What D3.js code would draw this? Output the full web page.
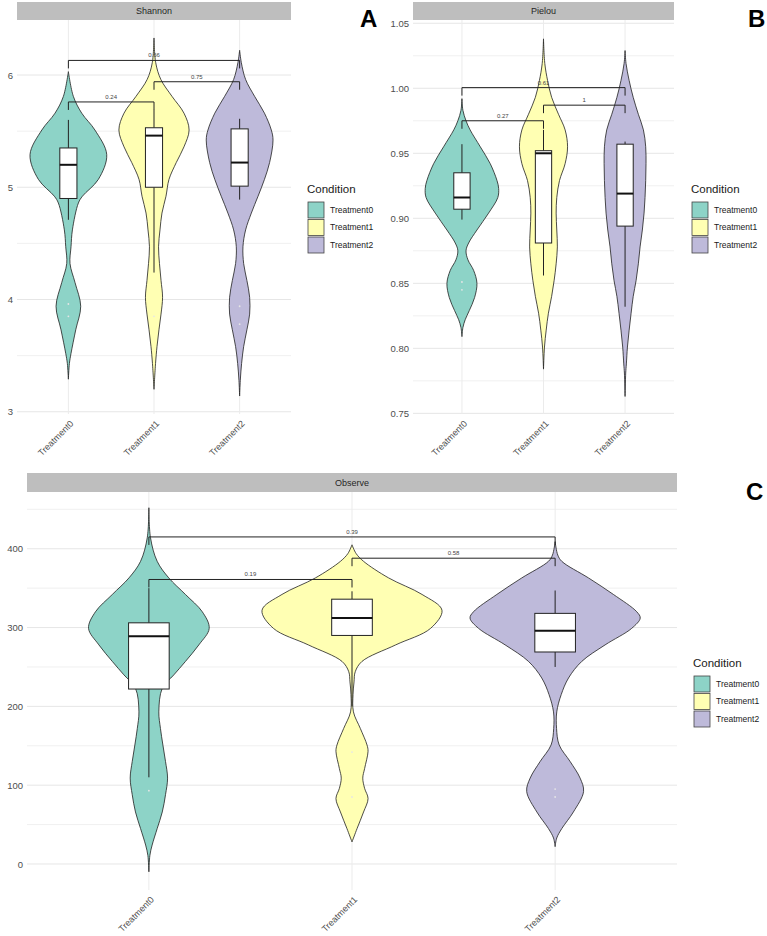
<!DOCTYPE html>
<html lang="en">
<head>
<meta charset="UTF-8">
<title>Violin plots</title>
<style>
  body { margin: 0; background: #fff; }
  svg { display: block; font-family: "Liberation Sans", Arial, sans-serif; }
</style>
</head>
<body>
<div class="canvas"></div>
<script src="https://cdnjs.cloudflare.com/ajax/libs/d3/7.8.5/d3.min.js"></script>
<script>
// groups
const categories = ["Treatment0", "Treatment1", "Treatment2"];
const fills = ["#8DD3C7", "#FFFFB3", "#BEBADA"];

// violin outlines: [value, half width in category units]
const shannonViolins = [
  [[6.03,0],[5.81,.058],[5.66,.156],[5.51,.31],[5.29,.448],[5.07,.35],[4.92,.164],[4.86,.117],[4.62,.047],[4.47,.031],[4.32,.019],[4.15,.078],[3.94,.144],[3.73,.086],[3.52,.031],[3.43,.012],[3.29,0]],
  [[6.33,0],[6.11,.02],[5.96,.08],[5.81,.21],[5.66,.35],[5.51,.41],[5.36,.35],[5.22,.26],[5.07,.175],[4.92,.14],[4.77,.093],[4.62,.07],[4.47,.053],[4.32,.064],[4.17,.082],[4.02,.1],[3.87,.082],[3.73,.058],[3.58,.035],[3.43,.018],[3.20,0]],
  [[6.22,0],[6.11,.02],[5.96,.07],[5.81,.175],[5.66,.29],[5.51,.37],[5.42,.39],[5.22,.35],[5.07,.29],[4.92,.215],[4.77,.137],[4.62,.07],[4.47,.039],[4.32,.047],[4.17,.085],[4.02,.117],[3.87,.117],[3.73,.085],[3.58,.047],[3.43,.023],[3.28,.008],[3.14,0]]
];
// boxes: [lower whisker, q1, median, q3, upper whisker]
const shannonBoxes = [
  [4.71, 4.90, 5.20, 5.35, 5.60],
  [4.24, 5.00, 5.46, 5.53, 5.69],
  [4.89, 5.01, 5.22, 5.52, 5.61]
];
const shannonOutliers = [[3.96, 3.85], [3.85], [3.94, 3.78]];
// [from, to, height, p label]
const shannonBrackets = [[0, 1, 5.76, "0.24"], [1, 2, 5.94, "0.75"], [0, 2, 6.13, "0.66"]];
const shannonTicks = [3, 4, 5, 6];
const shannonMinor = [3.5, 4.5, 5.5];

const pielouViolins = [
  [[0.992,0],[0.983,.012],[0.975,.05],[0.968,.10],[0.955,.225],[0.942,.347],[0.929,.43],[0.923,.45],[0.916,.44],[0.904,.327],[0.891,.184],[0.881,.082],[0.875,.05],[0.868,.074],[0.860,.143],[0.850,.184],[0.839,.155],[0.829,.09],[0.822,.04],[0.816,.012],[0.809,0]],
  [[1.038,0],[1.019,.016],[1.006,.05],[0.993,.10],[0.980,.184],[0.968,.265],[0.955,.295],[0.942,.265],[0.929,.196],[0.916,.163],[0.904,.155],[0.891,.163],[0.878,.17],[0.865,.155],[0.852,.13],[0.840,.10],[0.827,.06],[0.814,.033],[0.801,.012],[0.784,0]],
  [[1.029,0],[1.019,.012],[1.006,.05],[0.993,.10],[0.980,.163],[0.968,.225],[0.955,.253],[0.942,.257],[0.929,.253],[0.916,.245],[0.904,.233],[0.891,.212],[0.878,.184],[0.865,.163],[0.852,.135],[0.840,.10],[0.827,.074],[0.814,.05],[0.801,.029],[0.788,.016],[0.781,.008],[0.763,0]]
];
const pielouBoxes = [
  [0.899, 0.907, 0.916, 0.935, 0.957],
  [0.856, 0.881, 0.950, 0.952, 0.968],
  [0.832, 0.894, 0.919, 0.957, 0.959]
];
const pielouOutliers = [[0.851, 0.845], [], []];
const pielouBrackets = [[0, 1, 0.975, "0.27"], [1, 2, 0.987, "1"], [0, 2, 1.0005, "0.61"]];
const pielouTicks = [0.75, 0.80, 0.85, 0.90, 0.95, 1.00, 1.05];
const pielouMinor = [0.775, 0.825, 0.875, 0.925, 0.975, 1.025];

const observeViolins = [
  [[452,0],[414,.008],[384,.041],[363,.098],[342,.18],[320,.263],[299,.297],[278,.246],[257,.18],[240,.123],[223,.066],[193,.049],[172,.057],[151,.069],[130,.082],[109,.092],[88,.082],[66,.066],[45,.041],[24,.016],[11,.005],[-10,0]],
  [[405,0],[394,.02],[384,.057],[363,.18],[342,.345],[322,.443],[299,.387],[278,.215],[257,.049],[244,.016],[231,.01],[215,.005],[193,.007],[172,.041],[151,.074],[143,.079],[121,.062],[109,.053],[96,.062],[83,.079],[66,.057],[45,.025],[28,0]],
  [[409,0],[392,.013],[384,.033],[363,.164],[342,.287],[320,.402],[312,.419],[299,.377],[278,.246],[257,.131],[236,.066],[215,.03],[193,.008],[172,.007],[151,.02],[130,.074],[109,.123],[92,.14],[66,.09],[45,.033],[33,.008],[22,0]]
];
const observeBoxes = [
  [110, 222, 289, 306, 350],
  [200, 290, 312, 336, 346],
  [250, 269, 296, 318, 347]
];
const observeOutliers = [[93], [142, 85], [95, 85]];
const observeBrackets = [[0, 1, 361, "0.19"], [1, 2, 388, "0.58"], [0, 2, 415, "0.39"]];
const observeTicks = [0, 100, 200, 300, 400];
const observeMinor = [50, 150, 250, 350, 450];

const panels = [
  { title: "Shannon", letter: "A", violins: shannonViolins, boxes: shannonBoxes, outliers: shannonOutliers,
    brackets: shannonBrackets, ticks: shannonTicks, minor: shannonMinor, fmt: d3.format("d"),
    domain: [2.98, 6.49], left: 17, right: 291, top: 20, bottom: 414, stripTop: 2,
    legendX: 307, legendY: 193, letterX: 360, letterY: 27 },
  { title: "Pielou", letter: "B", violins: pielouViolins, boxes: pielouBoxes, outliers: pielouOutliers,
    brackets: pielouBrackets, ticks: pielouTicks, minor: pielouMinor, fmt: d3.format(".2f"),
    domain: [0.7495, 1.0525], left: 413, right: 674, top: 20, bottom: 414, stripTop: 2,
    legendX: 691, legendY: 193, letterX: 748, letterY: 27 },
  { title: "Observe", letter: "C", violins: observeViolins, boxes: observeBoxes, outliers: observeOutliers,
    brackets: observeBrackets, ticks: observeTicks, minor: observeMinor, fmt: d3.format("d"),
    domain: [-33, 472], left: 27, right: 677, top: 492, bottom: 890, stripTop: 473,
    legendX: 693, legendY: 667, letterX: 746, letterY: 500 }
];

const svg = d3.select('.canvas').append('svg')
  .attr('width', 767)
  .attr('height', 936);

panels.forEach(p => {
  const x = d3.scalePoint().domain(categories).range([p.left, p.right]).padding(0.6);
  const y = d3.scaleLinear().domain(p.domain).range([p.bottom, p.top]);
  const step = x.step();
  const g = svg.append('g');

  // grid
  g.selectAll('.minor').data(p.minor).join('line')
    .attr('x1', p.left).attr('x2', p.right)
    .attr('y1', d => y(d)).attr('y2', d => y(d))
    .attr('stroke', '#eeeeee').attr('stroke-width', 0.9);
  g.selectAll('.major').data(p.ticks).join('line')
    .attr('x1', p.left).attr('x2', p.right)
    .attr('y1', d => y(d)).attr('y2', d => y(d))
    .attr('stroke', '#e6e6e6').attr('stroke-width', 1);
  g.selectAll('.vgrid').data(categories).join('line')
    .attr('x1', d => x(d)).attr('x2', d => x(d))
    .attr('y1', p.top).attr('y2', p.bottom)
    .attr('stroke', '#ebebeb').attr('stroke-width', 1);

  // strip
  g.append('rect')
    .attr('x', p.left).attr('y', p.stripTop)
    .attr('width', p.right - p.left).attr('height', p.top - p.stripTop)
    .attr('fill', '#bebebe');
  g.append('text')
    .attr('x', (p.left + p.right) / 2).attr('y', (p.top + p.stripTop) / 2)
    .attr('dy', '0.35em').attr('text-anchor', 'middle')
    .attr('font-size', 9).attr('fill', '#262626')
    .text(p.title);

  // violins
  categories.forEach((c, i) => {
    const cx = x(c);
    const area = d3.area()
      .y(d => y(d[0]))
      .x0(d => cx - d[1] * step)
      .x1(d => cx + d[1] * step)
      .curve(d3.curveCatmullRom.alpha(0.5));
    g.append('path')
      .attr('d', area(p.violins[i]))
      .attr('fill', fills[i])
      .attr('stroke', '#1f1f1f')
      .attr('stroke-width', 0.8);
  });

  // boxplots
  categories.forEach((c, i) => {
    const cx = x(c);
    const b = p.boxes[i];
    const hw = 0.1 * step;
    g.append('line')
      .attr('x1', cx).attr('x2', cx).attr('y1', y(b[3])).attr('y2', y(b[4]))
      .attr('stroke', '#222').attr('stroke-width', 1);
    g.append('line')
      .attr('x1', cx).attr('x2', cx).attr('y1', y(b[1])).attr('y2', y(b[0]))
      .attr('stroke', '#222').attr('stroke-width', 1);
    g.append('rect')
      .attr('x', cx - hw).attr('y', y(b[3]))
      .attr('width', 2 * hw).attr('height', y(b[1]) - y(b[3]))
      .attr('fill', '#fff').attr('stroke', '#222').attr('stroke-width', 1);
    g.append('line')
      .attr('x1', cx - hw).attr('x2', cx + hw).attr('y1', y(b[2])).attr('y2', y(b[2]))
      .attr('stroke', '#111').attr('stroke-width', 2);
    g.selectAll(null).data(p.outliers[i]).join('circle')
      .attr('cx', cx).attr('cy', d => y(d)).attr('r', 0.9)
      .attr('fill', '#e6e6e6');
  });

  // significance brackets
  p.brackets.forEach(([a, b, h, lab]) => {
    const x1 = x(categories[a]), x2 = x(categories[b]), yb = y(h);
    g.append('path')
      .attr('d', `M${x1},${yb + 8}L${x1},${yb}L${x2},${yb}L${x2},${yb + 8}`)
      .attr('fill', 'none').attr('stroke', '#222').attr('stroke-width', 1);
    g.append('text')
      .attr('x', (x1 + x2) / 2).attr('y', yb - 3)
      .attr('text-anchor', 'middle').attr('font-size', 6).attr('fill', '#444')
      .text(lab);
  });

  // axes
  const yAxis = g.append('g')
    .attr('transform', `translate(${p.left},0)`)
    .call(d3.axisLeft(y).tickValues(p.ticks).tickFormat(p.fmt).tickSize(0).tickPadding(4));
  yAxis.select('.domain').remove();
  yAxis.selectAll('text').attr('font-size', 9.5).attr('fill', '#4d4d4d').attr('font-family', null);

  const xAxis = g.append('g')
    .attr('transform', `translate(0,${p.bottom})`)
    .call(d3.axisBottom(x).tickSize(0));
  xAxis.select('.domain').remove();
  xAxis.selectAll('text')
    .attr('x', 0).attr('y', 0).attr('dy', '0.35em')
    .attr('transform', 'translate(3,8) rotate(-45)')
    .attr('text-anchor', 'end')
    .attr('font-size', 9).attr('fill', '#4d4d4d').attr('font-family', null);

  // legend
  const lg = g.append('g');
  lg.append('text')
    .attr('x', p.legendX).attr('y', p.legendY)
    .attr('font-size', 11.5).attr('fill', '#1a1a1a')
    .text('Condition');
  categories.forEach((c, i) => {
    const ky = p.legendY + 9 + i * 17.5;
    lg.append('rect')
      .attr('x', p.legendX + 1).attr('y', ky)
      .attr('width', 16).attr('height', 16)
      .attr('fill', fills[i]).attr('stroke', '#444').attr('stroke-width', 0.8);
    lg.append('text')
      .attr('x', p.legendX + 23).attr('y', ky + 8)
      .attr('dy', '0.35em').attr('font-size', 8.5).attr('fill', '#1a1a1a')
      .text(c);
  });

  // panel letter
  g.append('text')
    .attr('x', p.letterX).attr('y', p.letterY)
    .attr('font-size', 24).attr('font-weight', 'bold').attr('fill', '#000')
    .text(p.letter);
});
</script>
</body>
</html>
